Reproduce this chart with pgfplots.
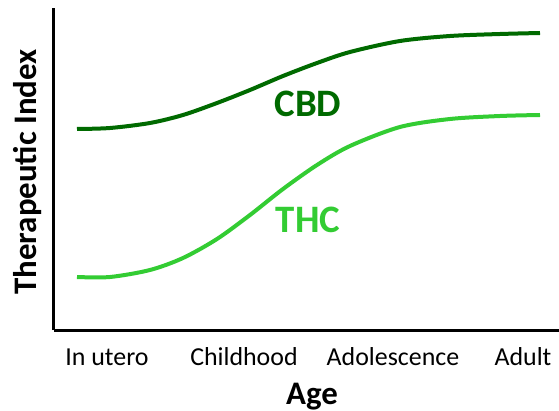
\documentclass[border=0pt]{standalone}
\usepackage{fontspec}
\setmainfont{Carlito}
\usepackage{pgfplots}
\pgfplotsset{compat=1.18}
\definecolor{cbdgreen}{HTML}{006A00}
\definecolor{thcgreen}{HTML}{33CC33}
\begin{document}
\begin{tikzpicture}
\begin{axis}[
  at={(0,0)}, anchor=origin,
  scale only axis,
  width=505bp, height=322bp,
  xmin=0, xmax=505, ymin=0, ymax=322,
  axis x line=bottom, axis y line=left,
  axis line style={line width=3bp, -},
  ytick=\empty,
  xtick={53,190,339,469},
  xticklabels={In utero, Childhood, Adolescence, Adult},
  major tick length=0pt,
  xticklabel style={font=\fontsize{26}{30}\selectfont, anchor=base, yshift=-35bp},
  xlabel={Age},
  xlabel style={font=\bfseries\fontsize{33}{38}\selectfont, at={(axis cs:258,-74)}, anchor=base},
  ylabel={Therapeutic Index},
  ylabel style={font=\bfseries\fontsize{33}{38}\selectfont, at={(axis cs:-17,158)}, anchor=base},
  clip=false,
]
\addplot[color=cbdgreen, line width=4bp, smooth, tension=0.5] coordinates {
(23,201) (56,202) (96,207) (129,215) (163,227) (196,240) (229,254) (263,267) (296,278) (346,289) (396,294) (446,296) (486,297)
};
\addplot[color=thcgreen, line width=4bp, smooth, tension=0.5] coordinates {
(23,53) (56,53) (96,60) (129,72) (163,91) (196,115) (229,141) (263,165) (296,184) (346,203) (396,211) (446,214) (486,215)
};
\node[font=\bfseries\fontsize{39}{44}\selectfont, text=cbdgreen, anchor=center, inner sep=0pt] at (axis cs:254,226.5) {CBD};
\node[font=\bfseries\fontsize{39}{44}\selectfont, text=thcgreen, anchor=center, inner sep=0pt] at (axis cs:254,110) {THC};
\end{axis}
\pgfresetboundingbox
\path[use as bounding box] (-54bp,-81bp) rectangle (505bp,330bp);
\end{tikzpicture}
\end{document}
